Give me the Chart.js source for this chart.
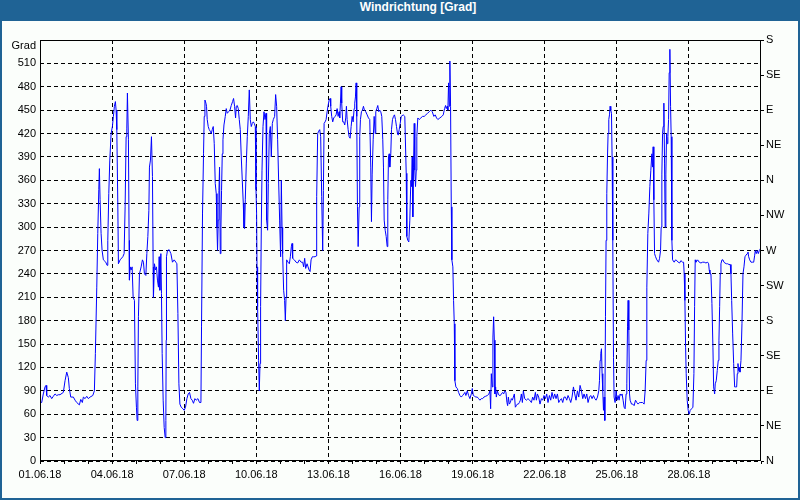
<!DOCTYPE html>
<html>
<head>
<meta charset="utf-8">
<script src="https://cdn.jsdelivr.net/npm/chart.js@4.4.1/dist/chart.umd.min.js"></script>
<style>
  body { margin: 0; background: #fff; }
  #fenster { position: relative; width: 800px; height: 500px; background: #1f6395; }
  #titel { position: absolute; left: 18px; top: 0; width: 800px; height: 21px; line-height: 21px;
           text-align: center; color: #fff; font: bold 12px "Liberation Sans", Arial, sans-serif; }
  #rahmen { position: absolute; left: 2px; top: 21px; width: 796px; height: 477px; background: #fbfefb; }
</style>
</head>
<body>
<div id="fenster">
  <div id="titel">Windrichtung [Grad]</div>
  <div id="rahmen"><canvas id="myChart" width="796" height="477"></canvas></div>
</div>
<script>
// Stunden seit 01.06.18 00:00 und Windrichtung in Grad
const stunden = [
  0, 1.7, 3.3, 5, 6, 6.7, 8.3, 10, 11.7, 13.3, 15, 16.7, 18.3, 20, 23.3, 25, 26.7, 28.3, 29.3, 30.7,
  33.3, 35, 36.7, 39.3, 40.7, 42.3, 43.3, 45, 46.7, 48.3, 50, 52.7, 54.3, 55.3, 56.7, 57.7, 58.7, 59.3, 60, 61,
  62, 63.3, 65.7, 67, 67.7, 68.7, 69.7, 71, 72.3, 73.3, 74.3, 75.3, 76, 76.7, 77.7, 78.3, 80, 82.7, 84, 85,
  86, 86.7, 87.3, 88.3, 89, 89.3, 90, 91, 92, 93, 94.3, 95.3, 96.3, 97, 97.7, 98.3, 99.3, 101, 102.3, 103.3,
  104.3, 105.7, 106.7, 107.7, 108.7, 109.3, 110.3, 111.3, 112.3, 113, 113.3, 114.3, 115.3, 116.3, 117.3, 118.3, 119, 119.7, 120.7, 121.3,
  122, 123, 124, 125, 125.7, 126, 126.3, 127.3, 129, 130.7, 132.3, 134, 135.7, 136.7, 137.7, 138.7, 139.7, 141, 142.7, 144,
  145.3, 146.7, 148, 149.3, 150.7, 152, 153.3, 154.7, 156, 157.7, 159.3, 160.7, 161.3, 162.3, 163.3, 164, 164.7, 165.7, 166.3, 167,
  168, 169, 170, 171, 172, 173, 174, 175, 176, 176.7, 177.3, 178, 178.7, 179.3, 180, 180.7, 181.3, 182, 182.7, 183.7,
  185, 186, 187, 188.3, 189.7, 191, 192.3, 193.3, 194.3, 195.3, 196, 197, 198, 199, 200, 201, 202, 203, 203.7, 204.3,
  205, 206, 207, 208, 209, 210, 211, 212, 213, 214, 215, 215.7, 216.3, 216.7, 217.3, 218.3, 219, 219.7, 220.3, 221,
  221.7, 222.7, 223.7, 224.7, 225.7, 226.3, 227.3, 228, 229, 230, 231, 232, 233, 234.3, 235.3, 236.3, 237.3, 238.3, 239.3, 240.3,
  241, 241.7, 242.3, 243.3, 244.3, 245, 245.7, 246.3, 247.7, 249, 250, 251, 251.7, 252.3, 254, 255.7, 257.3, 259, 260.7, 262.3,
  263.3, 264.3, 265.3, 266.7, 267.7, 268.7, 269.7, 270.7, 272, 273.3, 274.7, 275.7, 276.3, 277.3, 278.3, 279.3, 280.3, 281.3, 282.3, 283,
  283.7, 284.7, 285.7, 286.7, 287.7, 288.7, 289.7, 290.3, 291.3, 292.3, 293.3, 294.7, 295.7, 296.7, 297.7, 298.7, 299.3, 300, 300.7, 301.3,
  302.3, 303.3, 304.3, 305.3, 306, 306.7, 307.7, 308.7, 309.7, 310.7, 311.7, 312.7, 313.7, 314.3, 315, 315.7, 316.3, 317, 317.7, 318.7,
  319.3, 320, 321, 322, 323, 324, 325.3, 326.7, 328, 329.3, 330.3, 331, 331.7, 332.7, 333.7, 334.7, 335.3, 336.3, 337.3, 338.3,
  339.3, 340.3, 341.3, 342.3, 343, 343.7, 344.7, 345.7, 346.7, 347.3, 348, 348.7, 349.3, 350.3, 351, 352, 353, 354, 355, 356,
  357, 357.7, 358.7, 359.7, 360.7, 361, 362.7, 364.3, 365.7, 366.3, 367.3, 368.3, 369.3, 370.3, 371, 371.7, 372.3, 373, 373.7, 374.3,
  375, 375.7, 376.3, 377.3, 378.7, 380.3, 382, 383.7, 385.3, 387, 388.7, 390.3, 391.7, 393.3, 394.7, 396, 397.3, 399.3, 401.3, 402.7,
  404, 405, 405.7, 406.7, 407.3, 408, 408.7, 409.3, 410, 410.7, 411.3, 412.3, 413, 413.7, 414.3, 415.3, 416.7, 418, 419.3, 420.7,
  422, 423.3, 424.3, 425.3, 426.7, 428, 429.3, 430.7, 431.7, 432.7, 434, 435.3, 436.7, 438, 439.3, 440.7, 442, 443.3, 445, 446.7,
  448.3, 449.3, 450, 450.7, 451.7, 452.3, 453, 453.7, 454.3, 455, 455.7, 456.7, 457.7, 458.7, 459.7, 460.7, 462, 463, 464.3, 465.3,
  466.3, 467, 467.7, 468.7, 469.7, 470.7, 471.7, 472.7, 473.7, 474.7, 475.7, 476.7, 477.7, 478.7, 479.7, 480.7, 481.7, 482.7, 484, 485.7,
  487.3, 489, 490.7, 492, 493.3, 494.7, 495.7, 496.7, 498, 499.3, 500.7, 502, 503.3, 504.7, 506, 507.3, 508.7, 510, 511.3, 512.7,
  514, 515.3, 516.7, 518, 519.3, 520.7, 522, 523.3, 524.7, 526, 527.3, 528.7, 530, 531.3, 532.7, 534, 535.3, 536.7, 538, 539.3,
  540.7, 542, 543.3, 544.7, 546, 547.3, 548.7, 550, 551.3, 552.7, 554, 555.3, 556.7, 558, 558.7, 559.3, 560, 560.7, 561.3, 562,
  562.7, 563.3, 564, 564.7, 565.3, 566, 566.7, 567.3, 568, 568.7, 569.3, 570, 570.7, 571.3, 572, 572.7, 573.3, 574.3, 575.3, 576.3,
  577.3, 578.3, 579.3, 580.3, 581.3, 582.3, 583.3, 584.3, 585.3, 586, 586.7, 587.3, 588, 588.7, 589.3, 590.7, 592, 593.3, 594.7, 596,
  597.3, 598.7, 600, 601.7, 603.3, 604.3, 605.3, 606, 607, 608, 609, 610, 611, 611.7, 612.3, 613, 613.7, 614.7, 616, 617.7,
  618.7, 619.7, 620.3, 621, 621.7, 622.3, 623, 623.7, 624.3, 625, 625.7, 626.3, 627, 627.7, 628.3, 629, 629.7, 630.3, 631, 631.7,
  633.3, 634.7, 636, 637.3, 638.7, 640, 641.7, 642.7, 643.3, 644, 644.7, 645.3, 646.3, 647.3, 648.3, 649.3, 650.7, 652, 653, 653.7,
  654.3, 655, 656.7, 658.3, 660, 661.7, 663.3, 665, 666.7, 667.7, 668.3, 669, 670, 671, 672, 672.7, 673.7, 674.3, 675.3, 676.3,
  677.3, 678, 678.7, 679.3, 680, 681, 682, 683, 684, 685.3, 686.7, 688, 689.3, 690, 690.7, 691.7, 692.7, 693.7, 694.7, 695.7,
  696.3, 697, 697.7, 698.3, 699, 700, 701, 702, 703, 704, 705, 706.3, 707, 707.7, 708.7, 710, 711.3, 712.7, 713.7, 714.3,
  715.3, 716.3, 717.3, 718.3, 719.3, 720
];
const grad = [
  75, 75, 86, 95, 97, 84, 82, 84, 80, 83, 86, 84, 85, 85, 88, 103, 114, 107, 93, 82,
  82, 78, 75, 72, 79, 75, 82, 80, 83, 80, 82, 84, 90, 138, 223, 292, 348, 375, 335, 292,
  270, 258, 255, 251, 283, 343, 386, 420, 429, 442, 455, 461, 450, 425, 330, 253, 258, 262, 266, 326,
  416, 427, 472, 412, 283, 232, 249, 245, 249, 210, 206, 99, 69, 52, 95, 185, 240, 249, 258, 255,
  240, 238, 266, 288, 321, 377, 386, 416, 365, 249, 210, 253, 245, 249, 232, 223, 262, 219, 266, 215,
  138, 78, 43, 30, 52, 155, 262, 270, 271, 266, 255, 258, 255, 253, 189, 99, 73, 69, 67, 65,
  69, 80, 86, 88, 80, 78, 74, 80, 78, 80, 75, 75, 172, 318, 394, 442, 463, 459, 455, 438,
  429, 425, 423, 420, 425, 429, 407, 356, 343, 300, 270, 309, 347, 377, 266, 300, 347, 394, 412, 431,
  442, 452, 446, 448, 450, 456, 461, 465, 455, 440, 455, 456, 452, 438, 425, 390, 360, 330, 300, 298,
  335, 381, 416, 442, 476, 438, 429, 433, 435, 433, 429, 348, 318, 249, 198, 129, 90, 125, 198, 300,
  373, 429, 448, 438, 446, 309, 296, 356, 420, 429, 390, 433, 438, 442, 470, 455, 412, 360, 309, 262,
  360, 300, 266, 219, 206, 180, 210, 258, 255, 253, 262, 275, 279, 260, 258, 255, 254, 258, 255, 255,
  249, 260, 247, 253, 249, 245, 243, 258, 262, 262, 262, 263, 339, 420, 423, 425, 416, 339, 270, 347,
  433, 435, 438, 448, 456, 463, 465, 455, 442, 435, 440, 442, 444, 452, 442, 448, 440, 459, 480, 459,
  435, 435, 431, 440, 455, 438, 425, 416, 414, 429, 442, 435, 452, 459, 467, 485, 442, 326, 275, 326,
  416, 438, 448, 450, 455, 450, 448, 444, 440, 438, 377, 307, 368, 412, 442, 420, 448, 452, 456, 448,
  450, 448, 442, 412, 377, 309, 296, 288, 275, 335, 390, 394, 377, 394, 425, 438, 442, 444, 438, 429,
  420, 418, 425, 433, 442, 442, 444, 442, 369, 288, 283, 281, 309, 360, 352, 390, 313, 377, 433, 373,
  352, 373, 416, 440, 438, 440, 442, 442, 444, 446, 448, 450, 448, 442, 444, 440, 438, 440, 442, 444,
  452, 456, 452, 455, 450, 485, 455, 513, 455, 326, 258, 249, 206, 176, 103, 95, 93, 88, 84, 82,
  84, 86, 88, 84, 90, 84, 80, 86, 93, 84, 83, 82, 82, 80, 78, 80, 80, 82, 83, 84,
  86, 90, 67, 112, 95, 159, 185, 155, 86, 95, 82, 90, 86, 84, 84, 86, 88, 86, 90, 88,
  75, 71, 82, 73, 75, 80, 78, 82, 86, 69, 71, 73, 73, 75, 78, 86, 75, 90, 80, 78,
  80, 78, 75, 82, 78, 88, 78, 86, 82, 73, 80, 78, 84, 80, 86, 75, 84, 78, 88, 80,
  86, 80, 86, 75, 78, 80, 75, 82, 82, 78, 84, 80, 75, 82, 95, 86, 78, 90, 82, 97,
  90, 80, 86, 80, 86, 75, 82, 84, 80, 84, 80, 78, 82, 90, 103, 129, 138, 144, 112, 90,
  65, 82, 52, 185, 283, 343, 390, 420, 438, 444, 455, 450, 446, 390, 283, 133, 82, 75, 90, 78,
  84, 78, 86, 84, 86, 78, 69, 67, 86, 99, 172, 206, 168, 86, 78, 73, 73, 71, 78, 75,
  73, 75, 75, 75, 73, 90, 129, 223, 292, 318, 352, 373, 394, 377, 403, 335, 266, 262, 258, 255,
  260, 270, 300, 368, 420, 429, 459, 381, 300, 368, 420, 407, 416, 438, 498, 528, 455, 416, 283, 258,
  255, 258, 257, 255, 254, 257, 255, 255, 240, 206, 146, 112, 78, 65, 60, 65, 67, 69, 112, 198,
  258, 255, 258, 255, 254, 255, 255, 254, 255, 253, 245, 240, 240, 202, 146, 95, 86, 99, 103, 116,
  129, 155, 198, 240, 253, 258, 258, 255, 254, 253, 253, 252, 252, 240, 206, 163, 125, 95, 95, 95,
  112, 125, 116, 120, 114, 129, 176, 240, 249, 262, 264, 266, 268, 262, 258, 255, 255, 255, 264, 270,
  266, 270, 266, 270, 272, 275
];
// Achsenbeschriftungen
const datumLabels = ["01.06.18", "04.06.18", "07.06.18", "10.06.18", "13.06.18",
                     "16.06.18", "19.06.18", "22.06.18", "25.06.18", "28.06.18"];
const richtungWinkel = [0, 45, 90, 135, 180, 225, 270, 315, 360, 405, 450, 495, 540];
const richtungen = ["N", "NE", "E", "SE", "S", "SW", "W", "NW", "N", "NE", "E", "SE", "S"];

const schrift = { family: '"Liberation Sans", Arial, sans-serif', size: 11 };
const gestrichelt = { display: false, dash: [4, 3] };

// Rahmen um die Zeichenfläche und "Grad" oben links
const rahmenPlugin = {
  id: "rahmen",
  afterDraw(chart) {
    const { ctx, chartArea: a } = chart;
    ctx.save();
    ctx.strokeStyle = "#000";
    ctx.lineWidth = 1;
    ctx.strokeRect(Math.round(a.left) + 0.5, Math.round(a.top) + 0.5,
                   Math.round(a.width) - 1, Math.round(a.height) - 1);
    ctx.fillStyle = "#000";
    ctx.font = '11px "Liberation Sans", Arial, sans-serif';
    ctx.textAlign = "right";
    ctx.textBaseline = "middle";
    ctx.fillText("Grad", a.left - 4, a.top + 6);
    ctx.restore();
  },
};

const ctx = document.getElementById("myChart").getContext("2d");
const myChart = new Chart(ctx, {
  type: "line",
  data: {
    datasets: [
      {
        label: "Windrichtung",
        data: stunden.map((h, i) => ({ x: h, y: grad[i] })),
        borderColor: "#0000ff",
        borderWidth: 1,
        pointRadius: 0,
        tension: 0,
        yAxisID: "y",
      },
    ],
  },
  options: {
    responsive: false,
    animation: false,
    devicePixelRatio: 1,
    layout: { padding: { top: 19, left: 0, right: 0, bottom: 0 } },
    plugins: { legend: { display: false }, tooltip: { enabled: false } },
    scales: {
      x: {
        type: "linear",
        min: 0,
        max: 720,
        afterBuildTicks: (axis) => {
          const t = [];
          for (let h = 0; h <= 720; h += 24) t.push({ value: h });
          axis.ticks = t;
        },
        afterFit: (s) => { s.height = 37; },
        ticks: {
          autoSkip: false,
          maxRotation: 0,
          padding: 4,
          color: "#000",
          font: schrift,
          callback: (v) => (v % 72 === 0 && v < 720 ? datumLabels[v / 72] : ""),
        },
        grid: {
          color: (c) => {
            const v = c.tick ? c.tick.value : 0;
            return v % 72 === 0 && v > 0 && v < 720 ? "#000" : "rgba(0,0,0,0)";
          },
          tickColor: "#000",
          tickLength: 3,
          tickBorderDash: [],
        },
        border: gestrichelt,
      },
      y: {
        position: "left",
        min: 0,
        max: 540,
        afterFit: (s) => { s.width = 38; },
        ticks: {
          stepSize: 30,
          padding: 4,
          color: "#000",
          font: schrift,
          callback: (v) => (v === 540 ? "" : v),
        },
        grid: { color: "#000", drawTicks: false },
        border: gestrichelt,
      },
      y2: {
        position: "right",
        min: 0,
        max: 540,
        afterBuildTicks: (axis) => {
          axis.ticks = richtungWinkel.map((w) => ({ value: w }));
        },
        afterFit: (s) => { s.width = 37; },
        ticks: {
          padding: 2,
          color: "#000",
          font: schrift,
          callback: (v, i) => richtungen[i],
        },
        grid: { drawOnChartArea: false, tickColor: "#000", tickLength: 3 },
        border: { display: false },
      },
    },
  },
  plugins: [rahmenPlugin],
});
</script>
</body>
</html>
